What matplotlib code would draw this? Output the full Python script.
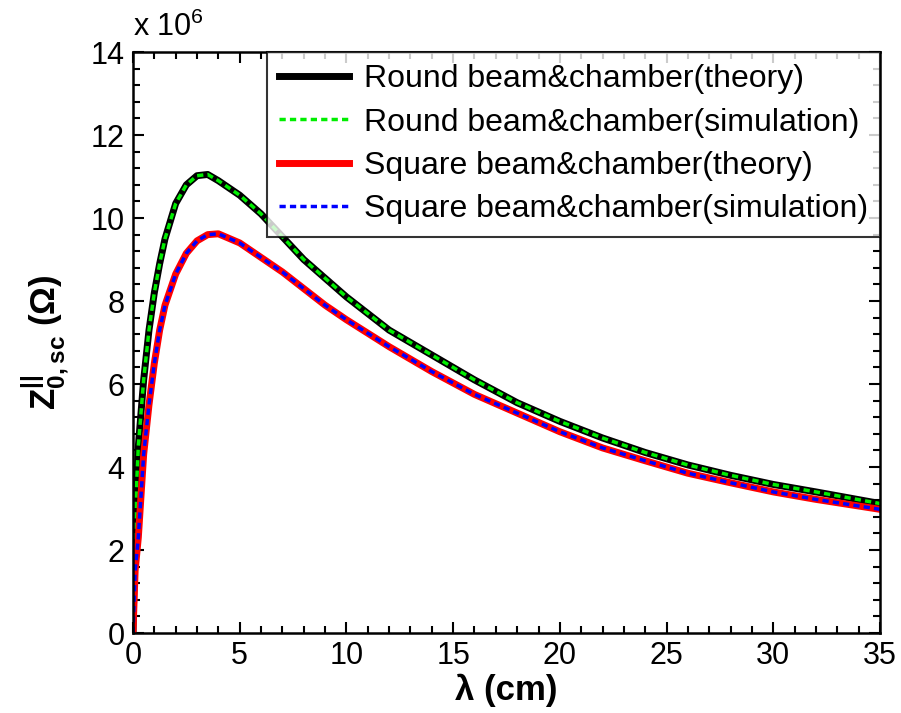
import numpy as np
import matplotlib
matplotlib.use('Agg')
import matplotlib.pyplot as plt
from matplotlib.ticker import MultipleLocator

plt.rcParams['font.family'] = ['Liberation Sans', 'DejaVu Sans']
plt.rcParams['mathtext.fontset'] = 'custom'
plt.rcParams['mathtext.rm'] = 'Liberation Sans'
plt.rcParams['mathtext.bf'] = 'Liberation Sans:bold'

# Wavelength (cm)
lam = [0, 0.1, 0.25, 0.5, 0.75, 1.0, 1.25, 1.5, 2.0, 2.5, 3.0, 3.5, 4.0,
       5, 6, 7, 8, 9, 10, 12, 14, 16, 18, 20, 22, 24, 26, 28, 30, 32, 35]

# Impedance (x 1e6 Ohm)
round_theory = [0, 2.8, 4.5, 6.1, 7.3, 8.2, 8.9, 9.5, 10.35, 10.8, 11.02,
                11.05, 10.9, 10.55, 10.1, 9.55, 9.0, 8.55, 8.1, 7.3, 6.7,
                6.1, 5.55, 5.1, 4.7, 4.35, 4.05, 3.8, 3.58, 3.4, 3.12]
round_sim = [0, 2.8, 4.5, 6.1, 7.3, 8.2, 8.9, 9.5, 10.35, 10.8, 11.02,
             11.05, 10.9, 10.55, 10.1, 9.55, 9.0, 8.55, 8.1, 7.3, 6.7,
             6.1, 5.55, 5.1, 4.7, 4.35, 4.05, 3.8, 3.58, 3.4, 3.12]
square_theory = [0, 1.5, 2.3, 4.3, 5.5, 6.5, 7.3, 7.9, 8.65, 9.15, 9.45,
                 9.6, 9.62, 9.4, 9.05, 8.7, 8.3, 7.9, 7.55, 6.9, 6.3,
                 5.75, 5.3, 4.85, 4.46, 4.15, 3.85, 3.62, 3.4, 3.22, 2.98]
square_sim = [0, 1.5, 2.3, 4.3, 5.5, 6.5, 7.3, 7.9, 8.65, 9.15, 9.45,
              9.6, 9.62, 9.4, 9.05, 8.7, 8.3, 7.9, 7.55, 6.9, 6.3,
              5.75, 5.3, 4.85, 4.46, 4.15, 3.85, 3.62, 3.4, 3.22, 2.98]

labels = ['Round beam&chamber(theory)', 'Round beam&chamber(simulation)',
          'Square beam&chamber(theory)', 'Square beam&chamber(simulation)']

fig = plt.figure(figsize=(9.01, 7.13), dpi=100)
ax = fig.add_axes([0.1476, 0.1122, 0.8291, 0.8148])

ax.plot(lam, round_theory, color='k', lw=5, label=labels[0])
ax.plot(lam, round_sim, color='#00ee00', lw=2.5, ls=(0, (1.8, 1.2)), label=labels[1])
ax.plot(lam, square_theory, color='#ff0000', lw=5, label=labels[2])
ax.plot(lam, square_sim, color='#0000ff', lw=2.5, ls=(0, (1.8, 1.2)), label=labels[3])

ax.set_xlim(0, 35)
ax.set_ylim(0, 14)
ax.xaxis.set_major_locator(MultipleLocator(5))
ax.xaxis.set_minor_locator(MultipleLocator(1))
ax.yaxis.set_major_locator(MultipleLocator(2))
ax.yaxis.set_minor_locator(MultipleLocator(0.4))
ax.tick_params(which='both', direction='in', top=True, right=True,
               labelsize=22, width=1.5)
ax.tick_params(which='major', length=8, pad=6)
ax.tick_params(which='minor', length=5)
for s in ax.spines.values():
    s.set_linewidth(1.8)

ax.set_xlabel('λ (cm)', fontsize=25, fontweight='bold', labelpad=2)
ax.set_ylabel(r'$\mathbf{Z}^{\mathbf{||}}_{\mathbf{0,sc}}$ (Ω)', fontsize=25,
              fontweight='bold', labelpad=14)
ax.text(0.0, 1.015, r'x 10$^6$', transform=ax.transAxes, fontsize=22,
        ha='left', va='bottom')

leg = ax.legend(loc='upper right', bbox_to_anchor=(1.0, 1.0), borderaxespad=0,
                fontsize=23, frameon=True, fancybox=False, handlelength=2.2,
                handletextpad=0.45, labelspacing=0.42, borderpad=0.38)
leg.get_frame().set_edgecolor('k')
leg.get_frame().set_linewidth(1.5)

plt.savefig('out.png', dpi=100)
